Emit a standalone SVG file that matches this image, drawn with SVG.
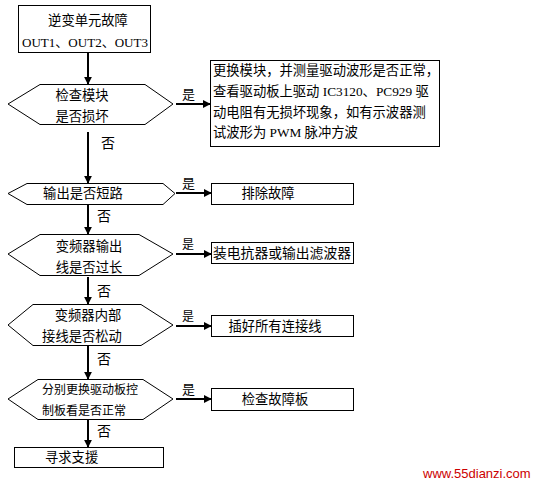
<svg xmlns="http://www.w3.org/2000/svg" width="538" height="486" viewBox="0 0 538 486">
<style>
.shape{fill:#fff;stroke:#000;stroke-width:1}
.t{font-family:"Liberation Serif","Noto Sans CJK SC",serif;font-size:13.3px;fill:#000}
.c{text-anchor:middle}
.lbl{font-family:"Noto Sans CJK SC",sans-serif;font-size:13px;fill:#000}
.ln{stroke:#000;stroke-width:2;fill:none}
</style>
<defs>
<marker id="ah" viewBox="0 0 10 10" refX="9" refY="5" markerWidth="4" markerHeight="4" orient="auto" markerUnits="strokeWidth">
<path d="M0,0 L10,5 L0,10 Z" fill="#000"/>
</marker>
</defs>
<rect width="538" height="486" fill="#fff"/>
<g id="start">
<rect class="shape" x="18.5" y="5.5" width="132" height="47"/>
<text class="t c" x="88" y="25">逆变单元故障</text>
<text class="t c" x="85" y="47" textLength="126" lengthAdjust="spacingAndGlyphs">OUT1、OUT2、OUT3</text>
</g>
<g id="d1">
<polygon class="shape" points="8,104 40,84.5 145,84.5 173,104 145,124.5 40,124.5"/>
<text class="t c" x="82" y="100">检查模块</text>
<text class="t c" x="82" y="121">是否损坏</text>
</g>
<g id="b1">
<rect class="shape" x="210.5" y="60.5" width="229" height="86"/>
<text class="t" x="213" y="75">更换模块，并测量驱动波形是否正常，</text>
<text class="t" x="213" y="96">查看驱动板上驱动 IC3120、PC929 驱</text>
<text class="t" x="213" y="117">动电阻有无损坏现象，如有示波器测</text>
<text class="t" x="213" y="137">试波形为 PWM 脉冲方波</text>
</g>
<g id="d2">
<polygon class="shape" points="8,193.5 27,183.5 163,183.5 175,193.5 163,204.5 27,204.5"/>
<text class="t c" x="83" y="198">输出是否短路</text>
</g>
<g id="b2">
<rect class="shape" x="211.5" y="183.5" width="142" height="21"/>
<text class="t c" x="268" y="198">排除故障</text>
</g>
<g id="d3">
<polygon class="shape" points="8,254 40,234.5 139,234.5 173,254 139,275.5 40,275.5"/>
<text class="t c" x="89" y="251">变频器输出</text>
<text class="t c" x="89" y="272">线是否过长</text>
</g>
<g id="b3">
<rect class="shape" x="211.5" y="242.5" width="142" height="21"/>
<text class="t" x="213" y="258" textLength="138" lengthAdjust="spacingAndGlyphs">装电抗器或输出滤波器</text>
</g>
<g id="d4">
<polygon class="shape" points="8,325 33,304.5 141,304.5 173,325 141,345.5 33,345.5"/>
<text class="t c" x="88" y="320">变频器内部</text>
<text class="t c" x="82" y="341">接线是否松动</text>
</g>
<g id="b4">
<rect class="shape" x="211.5" y="315.5" width="142" height="21"/>
<text class="t c" x="275" y="331">插好所有连接线</text>
</g>
<g id="d5">
<polygon class="shape" points="8,399 38,379.5 143,379.5 173,399 143,419.5 38,419.5"/>
<text class="t" x="42" y="394" style="font-size:12px">分别更换驱动板控</text>
<text class="t" x="42" y="415" style="font-size:12px">制板看是否正常</text>
</g>
<g id="b5">
<rect class="shape" x="211.5" y="388.5" width="142" height="22"/>
<text class="t c" x="275" y="404">检查故障板</text>
</g>
<g id="end">
<rect class="shape" x="14.5" y="447.5" width="149" height="20"/>
<text class="t" x="45" y="462">寻求支援</text>
</g>
<g id="connectors">
<line class="ln" x1="88" y1="52" x2="88" y2="84" marker-end="url(#ah)"/>
<line class="ln" x1="88" y1="132" x2="88" y2="183" marker-end="url(#ah)"/>
<line class="ln" x1="88" y1="205" x2="88" y2="234" marker-end="url(#ah)"/>
<line class="ln" x1="88" y1="277" x2="88" y2="304" marker-end="url(#ah)"/>
<line class="ln" x1="88" y1="346" x2="88" y2="379" marker-end="url(#ah)"/>
<line class="ln" x1="88" y1="420" x2="88" y2="447" marker-end="url(#ah)"/>
<line class="ln" x1="176" y1="104" x2="210" y2="104" marker-end="url(#ah)"/>
<line class="ln" x1="176" y1="193" x2="211" y2="193" marker-end="url(#ah)"/>
<line class="ln" x1="176" y1="254" x2="211" y2="254" marker-end="url(#ah)"/>
<line class="ln" x1="176" y1="326" x2="211" y2="326" marker-end="url(#ah)"/>
<line class="ln" x1="176" y1="399" x2="211" y2="399" marker-end="url(#ah)"/>
<text class="lbl" x="182" y="99">是</text>
<text class="lbl" x="182" y="188">是</text>
<text class="lbl" x="182" y="249" style="font-size:12px">是</text>
<text class="lbl" x="182" y="321" style="font-size:12px">是</text>
<text class="lbl" x="182" y="394">是</text>
<text class="lbl" x="101" y="148" style="font-size:14px">否</text>
<text class="lbl" x="97" y="221" style="font-size:14px">否</text>
<text class="lbl" x="97" y="296" style="font-size:14px">否</text>
<text class="lbl" x="97" y="364" style="font-size:14px">否</text>
<text class="lbl" x="97" y="436" style="font-size:14px">否</text>
</g>
<text x="423" y="478" style="font-family:'Liberation Sans',sans-serif;font-size:13px;fill:#cc0000">www.55dianzi.com</text>
</svg>
